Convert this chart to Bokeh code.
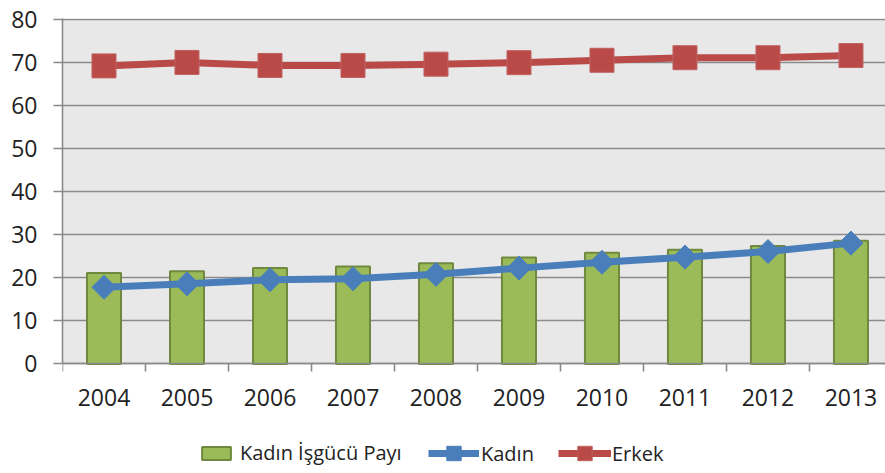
import math
from bokeh.plotting import figure
from bokeh.models import (ColumnDataSource, FixedTicker, Range1d, Legend, LegendItem,
                          BoxAnnotation)
from bokeh.embed import file_html
from bokeh.resources import INLINE

years = ["2004", "2005", "2006", "2007", "2008", "2009", "2010", "2011", "2012", "2013"]
pay = [21.1, 21.55, 22.25, 22.6, 23.4, 24.7, 25.8, 26.5, 27.4, 28.6]
kadin = [17.8, 18.6, 19.55, 19.8, 20.8, 22.25, 23.6, 24.8, 26.1, 28.05]
erkek = [69.2, 70.0, 69.3, 69.3, 69.6, 69.95, 70.5, 71.1, 71.1, 71.6]
y_ticks = [0, 10, 20, 30, 40, 50, 60, 70, 80]

xs = list(range(len(years)))
src = ColumnDataSource(dict(x=xs, pay=pay, kadin=kadin, erkek=erkek))

FONT = "Open Sans"
GRID = "#8a8a8a"

p = figure(width=885, height=473, output_backend="svg", toolbar_location=None,
           x_range=Range1d(-0.5, 9.416), y_range=Range1d(-25.43, 80.2),
           min_border_left=62, min_border_right=0, min_border_top=18,
           min_border_bottom=0)
p.background_fill_color = "white"
p.border_fill_color = "white"
p.outline_line_color = None

# gray plot area
box = BoxAnnotation(bottom=0, top=80.2, fill_color="#e8e8e8", fill_alpha=1,
                    line_color=None, level="image")
p.add_layout(box)

# grid
p.xgrid.grid_line_color = None
p.ygrid.ticker = FixedTicker(ticks=y_ticks)
p.ygrid.grid_line_color = GRID
p.ygrid.grid_line_width = 1.6

# y axis
p.yaxis.ticker = FixedTicker(ticks=y_ticks)
p.yaxis.bounds = (0, 80.2)
p.yaxis.axis_line_color = GRID
p.yaxis.axis_line_width = 1.6
p.yaxis.major_tick_line_color = GRID
p.yaxis.major_tick_line_width = 1.6
p.yaxis.major_tick_out = 9
p.yaxis.major_tick_in = 0
p.yaxis.minor_tick_line_color = None
p.yaxis.major_label_standoff = 16
p.yaxis.major_label_text_font = FONT
p.yaxis.major_label_text_font_size = "23px"
p.yaxis.major_label_text_color = "#222222"

# x axis (drawn at y = 0 inside the frame)
p.xaxis.fixed_location = 0
p.xaxis.ticker = FixedTicker(ticks=xs, minor_ticks=[i - 0.5 for i in range(len(years) + 1)])
p.xaxis.major_label_overrides = {i: y for i, y in enumerate(years)}
p.xaxis.axis_line_color = GRID
p.xaxis.axis_line_width = 1.6
p.xaxis.major_tick_line_color = None
p.xaxis.major_tick_out = 0
p.xaxis.major_tick_in = 0
p.xaxis.minor_tick_line_color = GRID
p.xaxis.minor_tick_line_width = 1.6
p.xaxis.minor_tick_out = 8
p.xaxis.minor_tick_in = 0
p.xaxis.major_label_standoff = 17
p.xaxis.major_label_text_font = FONT
p.xaxis.major_label_text_font_size = "23px"
p.xaxis.major_label_text_color = "#222222"

bars = p.vbar(x="x", top="pay", bottom=0, width=0.41, source=src, fill_color="#9bbb59",
              line_color="#71893f", line_width=2)

kl = p.line(x="x", y="kadin", source=src, line_color="#4a7ebb", line_width=7)
km = p.scatter(x="x", y="kadin", source=src, marker="square", angle=math.pi / 4,
               size=17, fill_color="#4a7ebb", line_color="#4a7ebb")

el = p.line(x="x", y="erkek", source=src, line_color="#b94a48", line_width=7)
em = p.scatter(x="x", y="erkek", source=src, marker="square", size=24,
               fill_color="#b94a48", line_color="#c06260", line_width=1)


def mk_legend(label, renderers, x, y, gw, gh, standoff):
    lg = Legend(items=[LegendItem(label=label, renderers=renderers)],
                location=(x, y), orientation="horizontal",
                glyph_width=gw, glyph_height=gh, label_standoff=standoff,
                padding=0, margin=0, border_line_color=None,
                background_fill_alpha=0, label_text_font=FONT,
                label_text_font_size="20px", label_text_color="#222222",
                label_height=20)
    p.add_layout(lg, "center")


mk_legend("Kadın İşgücü Payı", [bars], 136, 7, 36, 16, 6)
mk_legend("Kadın", [kl, km], 366, 2, 51, 36, 2)
mk_legend("Erkek", [el, em], 496, 2, 53, 36, 1)

open("out.html", "w").write(file_html(p, INLINE))
